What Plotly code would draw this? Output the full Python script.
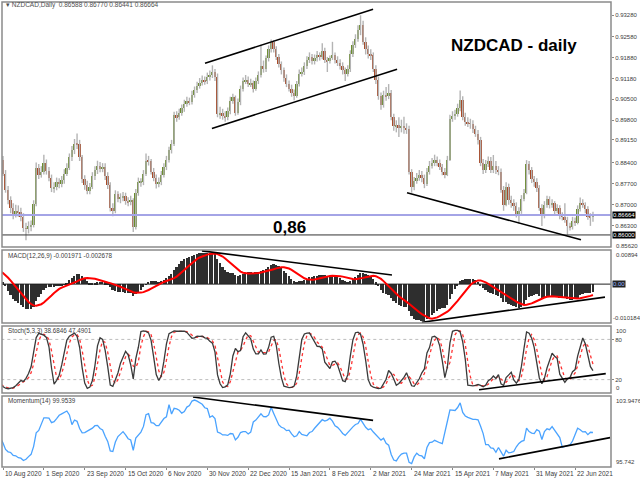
import numpy as np
import pandas as pd
import plotly.graph_objects as go

# ---------------- data (NZDCAD daily, Jun 2020 - Jul 2021) ----------------
open_ = [
 0.8600,0.8620,0.8650,0.8700,0.8760,0.8800,0.8830,0.8850,0.8820,0.8790,
 0.8760,0.8740,0.8770,0.8750,0.8730,0.8760,0.8780,0.8770,0.8750,0.8740,
 0.8760,0.8780,0.8800,0.8810,0.8830,0.8850,0.8840,0.8860,0.8870,0.8880,
 0.8890,0.8880,0.8900,0.8910,0.8920,0.8915,0.8930,0.8935,0.8950,0.8940,
 0.8920,0.8930,0.8945,0.8960,0.8950,0.8935,0.8920,0.8900,0.8880,0.8870,
 0.8850,0.8803,0.8750,0.8716,0.8690,0.8670,0.8680,0.8675,0.8660,0.8622,
 0.8620,0.8628,0.8632,0.8704,0.8823,0.8800,0.8810,0.8840,0.8813,0.8790,
 0.8755,0.8760,0.8775,0.8770,0.8782,0.8803,0.8823,0.8857,0.8880,0.8903,
 0.8900,0.8857,0.8785,0.8765,0.8745,0.8760,0.8795,0.8815,0.8830,0.8820,
 0.8825,0.8795,0.8765,0.8690,0.8680,0.8735,0.8720,0.8725,0.8730,0.8712,
 0.8708,0.8715,0.8625,0.8740,0.8775,0.8775,0.8803,0.8846,0.8845,0.8810,
 0.8790,0.8770,0.8775,0.8800,0.8825,0.8850,0.8880,0.8903,0.8996,0.8990,
 0.9005,0.9020,0.9035,0.9045,0.9040,0.9065,0.9080,0.9095,0.9105,0.9115,
 0.9110,0.9125,0.9130,0.9140,0.9125,0.9000,0.9005,0.8995,0.8990,0.9010,
 0.9045,0.9056,0.9003,0.9040,0.9085,0.9110,0.9115,0.9100,0.9105,0.9085,
 0.9110,0.9130,0.9160,0.9150,0.9185,0.9215,0.9240,0.9215,0.9190,0.9165,
 0.9145,0.9120,0.9100,0.9085,0.9070,0.9060,0.9100,0.9135,0.9140,0.9160,
 0.9180,0.9190,0.9175,0.9185,0.9195,0.9190,0.9210,0.9180,0.9175,0.9185,
 0.9195,0.9180,0.9170,0.9160,0.9145,0.9135,0.9150,0.9200,0.9230,0.9250,
 0.9280,0.9295,0.9240,0.9215,0.9200,0.9195,0.9150,0.9112,0.9060,0.9030,
 0.9065,0.9060,0.9070,0.8990,0.8960,0.8965,0.8955,0.8960,0.8955,0.8950,
 0.8810,0.8760,0.8780,0.8790,0.8800,0.8790,0.8770,0.8810,0.8830,0.8840,
 0.8850,0.8840,0.8825,0.8810,0.8800,0.8850,0.8985,0.8995,0.9000,0.9020,
 0.9046,0.8990,0.8975,0.8970,0.8968,0.8950,0.8935,0.8915,0.8840,0.8815,
 0.8835,0.8845,0.8815,0.8830,0.8815,0.8810,0.8750,0.8700,0.8760,0.8715,
 0.8705,0.8695,0.8670,0.8680,0.8720,0.8740,0.8835,0.8815,0.8785,0.8775,
 0.8755,0.8690,0.8665,0.8700,0.8718,0.8700,0.8705,0.8680,0.8690,0.8665,
 0.8660,0.8650,0.8630,0.8625,0.8645,0.8640,0.8685,0.8705,0.8700,0.8685,
 0.8660,0.86588]
high = [
 0.8635,0.8668,0.8715,0.8778,0.8815,0.8848,0.8870,0.8862,0.8832,0.8805,
 0.8772,0.8785,0.8782,0.8762,0.8775,0.8795,0.8792,0.8782,0.8765,0.8775,
 0.8795,0.8815,0.8825,0.8845,0.8865,0.8862,0.8875,0.8885,0.8895,0.8905,
 0.8905,0.8912,0.8925,0.8935,0.8932,0.8945,0.8950,0.8965,0.8962,0.8952,
 0.8942,0.8958,0.8975,0.8972,0.8962,0.8948,0.8932,0.8912,0.8895,0.8882,
 0.8862,0.8815,0.8762,0.8728,0.8705,0.8700,0.8698,0.8690,0.8672,0.8640,
 0.8645,0.8648,0.8715,0.8840,0.8835,0.8828,0.8866,0.8850,0.8825,0.8800,
 0.8775,0.8790,0.8788,0.8795,0.8818,0.8838,0.8870,0.8895,0.8918,0.8936,
 0.8915,0.8865,0.8798,0.8780,0.8772,0.8808,0.8828,0.8846,0.8842,0.8838,
 0.8838,0.8808,0.8775,0.8705,0.8748,0.8745,0.8738,0.8742,0.8740,0.8725,
 0.8730,0.8722,0.8752,0.8790,0.8788,0.8815,0.8870,0.8862,0.8852,0.8822,
 0.8800,0.8790,0.8812,0.8838,0.8862,0.8892,0.8915,0.9008,0.9010,0.9018,
 0.9032,0.9048,0.9058,0.9055,0.9078,0.9092,0.9108,0.9120,0.9128,0.9125,
 0.9138,0.9145,0.9162,0.9150,0.9135,0.9025,0.9018,0.9010,0.9022,0.9058,
 0.9068,0.9062,0.9052,0.9095,0.9122,0.9130,0.9125,0.9118,0.9112,0.9122,
 0.9142,0.9230,0.9178,0.9195,0.9228,0.9248,0.9245,0.9225,0.9200,0.9175,
 0.9155,0.9132,0.9112,0.9098,0.9082,0.9110,0.9148,0.9155,0.9172,0.9192,
 0.9205,0.9200,0.9198,0.9210,0.9205,0.9235,0.9220,0.9190,0.9195,0.9240,
 0.9205,0.9192,0.9182,0.9172,0.9155,0.9162,0.9212,0.9242,0.9265,0.9295,
 0.9328,0.9310,0.9255,0.9228,0.9215,0.9205,0.9162,0.9125,0.9072,0.9078,
 0.9090,0.9100,0.9080,0.9002,0.8980,0.8990,0.8982,0.8992,0.8970,0.8962,
 0.8818,0.8792,0.8805,0.8815,0.8812,0.8800,0.8822,0.8845,0.8855,0.8866,
 0.8860,0.8850,0.8835,0.8822,0.8862,0.8998,0.9010,0.9015,0.9035,0.9079,
 0.9060,0.9005,0.8990,0.8985,0.8980,0.8962,0.8948,0.8925,0.8852,0.8848,
 0.8860,0.8858,0.8865,0.8845,0.8828,0.8820,0.8762,0.8775,0.8770,0.8730,
 0.8718,0.8708,0.8692,0.8732,0.8752,0.8848,0.8845,0.8825,0.8795,0.8788,
 0.8765,0.8702,0.8712,0.8730,0.8728,0.8718,0.8712,0.8702,0.8698,0.8675,
 0.8705,0.8660,0.8640,0.8660,0.8658,0.8698,0.8724,0.8718,0.8708,0.8695,
 0.8672,0.86770]
low = [
 0.8585,0.8605,0.8638,0.8688,0.8745,0.8788,0.8815,0.8808,0.8775,0.8748,
 0.8725,0.8728,0.8738,0.8715,0.8718,0.8748,0.8758,0.8738,0.8728,0.8730,
 0.8748,0.8768,0.8788,0.8798,0.8818,0.8825,0.8828,0.8848,0.8858,0.8868,
 0.8865,0.8868,0.8888,0.8898,0.8902,0.8905,0.8918,0.8922,0.8928,0.8908,
 0.8908,0.8918,0.8935,0.8938,0.8922,0.8905,0.8888,0.8866,0.8858,0.8838,
 0.8795,0.8740,0.8702,0.8672,0.8652,0.8658,0.8660,0.8645,0.8610,0.8582,
 0.8605,0.8612,0.8625,0.8695,0.8785,0.8790,0.8800,0.8800,0.8778,0.8742,
 0.8740,0.8748,0.8755,0.8758,0.8770,0.8795,0.8815,0.8845,0.8868,0.8885,
 0.8845,0.8772,0.8750,0.8735,0.8735,0.8752,0.8782,0.8802,0.8808,0.8808,
 0.8782,0.8752,0.8678,0.8662,0.8672,0.8708,0.8705,0.8712,0.8700,0.8695,
 0.8698,0.8610,0.8618,0.8730,0.8760,0.8765,0.8795,0.8830,0.8800,0.8778,
 0.8754,0.8758,0.8765,0.8790,0.8815,0.8840,0.8870,0.8895,0.8975,0.8982,
 0.8995,0.9008,0.9025,0.9030,0.9032,0.9055,0.9070,0.9085,0.9095,0.9098,
 0.9100,0.9112,0.9120,0.9110,0.8990,0.8985,0.8982,0.8975,0.8980,0.9000,
 0.9035,0.8995,0.8998,0.9030,0.9075,0.9100,0.9090,0.9090,0.9072,0.9078,
 0.9100,0.9122,0.9138,0.9140,0.9175,0.9205,0.9205,0.9180,0.9155,0.9132,
 0.9108,0.9090,0.9075,0.9058,0.9046,0.9055,0.9092,0.9125,0.9130,0.9150,
 0.9170,0.9165,0.9165,0.9175,0.9178,0.9182,0.9170,0.9140,0.9168,0.9180,
 0.9168,0.9160,0.9148,0.9132,0.9110,0.9125,0.9140,0.9190,0.9220,0.9240,
 0.9262,0.9230,0.9198,0.9185,0.9180,0.9140,0.9100,0.9048,0.9015,0.9022,
 0.9045,0.9050,0.8980,0.8945,0.8940,0.8925,0.8940,0.8935,0.8935,0.8800,
 0.8740,0.8748,0.8770,0.8780,0.8775,0.8755,0.8762,0.8800,0.8820,0.8828,
 0.8828,0.8815,0.8798,0.8788,0.8795,0.8845,0.8975,0.8982,0.8992,0.9010,
 0.8980,0.8962,0.8958,0.8952,0.8938,0.8925,0.8900,0.8828,0.8802,0.8805,
 0.8825,0.8805,0.8805,0.8802,0.8798,0.8740,0.8680,0.8695,0.8700,0.8690,
 0.8680,0.8658,0.8637,0.8670,0.8712,0.8735,0.8800,0.8772,0.8760,0.8742,
 0.8680,0.8630,0.8655,0.8690,0.8688,0.8690,0.8668,0.8672,0.8652,0.8648,
 0.8640,0.8600,0.8615,0.8618,0.8630,0.8635,0.8678,0.8690,0.8672,0.8650,
 0.8630,0.86441]
close = [
 0.8620,0.8650,0.8700,0.8760,0.8800,0.8830,0.8850,0.8820,0.8790,0.8760,
 0.8740,0.8770,0.8750,0.8730,0.8760,0.8780,0.8770,0.8750,0.8740,0.8760,
 0.8780,0.8800,0.8810,0.8830,0.8850,0.8840,0.8860,0.8870,0.8880,0.8890,
 0.8880,0.8900,0.8910,0.8920,0.8915,0.8930,0.8935,0.8950,0.8940,0.8920,
 0.8930,0.8945,0.8960,0.8950,0.8935,0.8920,0.8900,0.8880,0.8870,0.8850,
 0.8803,0.8750,0.8716,0.8690,0.8670,0.8680,0.8675,0.8660,0.8622,0.8620,
 0.8628,0.8632,0.8704,0.8823,0.8800,0.8810,0.8840,0.8813,0.8790,0.8755,
 0.8760,0.8775,0.8770,0.8782,0.8803,0.8823,0.8857,0.8880,0.8903,0.8900,
 0.8857,0.8785,0.8765,0.8745,0.8760,0.8795,0.8815,0.8830,0.8820,0.8825,
 0.8795,0.8765,0.8690,0.8680,0.8735,0.8720,0.8725,0.8730,0.8712,0.8708,
 0.8715,0.8625,0.8740,0.8775,0.8775,0.8803,0.8846,0.8845,0.8810,0.8790,
 0.8770,0.8775,0.8800,0.8825,0.8850,0.8880,0.8903,0.8996,0.8990,0.9005,
 0.9020,0.9035,0.9045,0.9040,0.9065,0.9080,0.9095,0.9105,0.9115,0.9110,
 0.9125,0.9130,0.9140,0.9125,0.9000,0.9005,0.8995,0.8990,0.9010,0.9045,
 0.9056,0.9003,0.9040,0.9085,0.9110,0.9115,0.9100,0.9105,0.9085,0.9110,
 0.9130,0.9160,0.9150,0.9185,0.9215,0.9240,0.9215,0.9190,0.9165,0.9145,
 0.9120,0.9100,0.9085,0.9070,0.9060,0.9100,0.9135,0.9140,0.9160,0.9180,
 0.9190,0.9175,0.9185,0.9195,0.9190,0.9210,0.9180,0.9175,0.9185,0.9195,
 0.9180,0.9170,0.9160,0.9145,0.9135,0.9150,0.9200,0.9230,0.9250,0.9280,
 0.9295,0.9240,0.9215,0.9200,0.9195,0.9150,0.9112,0.9060,0.9030,0.9065,
 0.9060,0.9070,0.8990,0.8960,0.8965,0.8955,0.8960,0.8955,0.8950,0.8810,
 0.8760,0.8780,0.8790,0.8800,0.8790,0.8770,0.8810,0.8830,0.8840,0.8850,
 0.8840,0.8825,0.8810,0.8800,0.8850,0.8985,0.8995,0.9000,0.9020,0.9046,
 0.8990,0.8975,0.8970,0.8968,0.8950,0.8935,0.8915,0.8840,0.8815,0.8835,
 0.8845,0.8815,0.8830,0.8815,0.8810,0.8750,0.8700,0.8760,0.8715,0.8705,
 0.8695,0.8670,0.8680,0.8720,0.8740,0.8835,0.8815,0.8785,0.8775,0.8755,
 0.8690,0.8665,0.8700,0.8718,0.8700,0.8705,0.8680,0.8690,0.8665,0.8660,
 0.8650,0.8630,0.8625,0.8645,0.8640,0.8685,0.8705,0.8700,0.8685,0.8660,
 0.8659,0.86664]

first_date = "2020-06-01"
last_date = "2021-07-01"
market_closed = ["2020-12-25", "2021-01-01"]
first_visible = "2020-08-10"

label_dates = ["2020-08-10", "2020-09-01", "2020-09-23", "2020-10-15", "2020-11-06",
               "2020-11-30", "2020-12-22", "2021-01-15", "2021-02-08", "2021-03-02",
               "2021-03-24", "2021-04-15", "2021-05-07", "2021-05-31", "2021-06-22"]
label_text = ["10 Aug 2020", "1 Sep 2020", "23 Sep 2020", "15 Oct 2020", "6 Nov 2020",
              "30 Nov 2020", "22 Dec 2020", "15 Jan 2021", "8 Feb 2021", "2 Mar 2021",
              "24 Mar 2021", "15 Apr 2021", "7 May 2021", "31 May 2021", "22 Jun 2021"]

price_ticks = [0.9328, 0.9258, 0.9188, 0.9118, 0.9050, 0.8980, 0.8915, 0.8840,
               0.8770, 0.8700, 0.8630]
price_range = [0.8560, 0.9372]
price_floor_label = 0.8562
bid_price = 0.86664
support_level = 0.86000
macd_range = [-0.010184, 0.00894]
stoch_levels = [20, 80]
stoch_range = [0, 100]
mom_range = [95.742, 103.9476]

# analyst trend lines (bar offset from 10 Aug 2020, value)
chan_up_x, chan_up_y = [79.1, 144.9], [0.9169, 0.9348]
chan_lo_x, chan_lo_y = [81.8, 154.3], [0.8953, 0.9149]
wedge_x, wedge_y = [158.2, 226.3], [0.8740, 0.8584]
macd_tl1_x, macd_tl1_y = [77.9, 152.3], [0.0087, 0.0024]
macd_tl2_x, macd_tl2_y = [164.0, 235.7], [-0.0100, -0.0034]
stoch_tl_x, stoch_tl_y = [186.4, 236.0], [5, 29]
mom_tl1_x, mom_tl1_y = [74.4, 144.9], [103.83, 101.13]
mom_tl2_x, mom_tl2_y = [194.2, 237.7], [96.68, 99.14]

# ---------------- indicators ----------------
o = np.array(open_); h = np.array(high); l = np.array(low); c = np.array(close)
n = len(c)
dates = [d.strftime("%Y-%m-%d") for d in pd.bdate_range(first_date, last_date)
         if d.strftime("%Y-%m-%d") not in market_closed][:n]
x0 = dates.index(first_visible)
idx = np.arange(n) - x0


def ema(x, p):
    a = 2.0 / (p + 1)
    out = np.empty_like(x)
    out[0] = x[0]
    for i in range(1, len(x)):
        out[i] = a * x[i] + (1 - a) * out[i - 1]
    return out


macd = ema(c, 12) - ema(c, 26)
signal = pd.Series(macd).rolling(9).mean().values
cs, hs, ls = pd.Series(c), pd.Series(h), pd.Series(l)
ll = ls.rolling(5).min(); hh = hs.rolling(5).max()
k = 100 * (cs - ll).rolling(3).sum() / (hh - ll).rolling(3).sum()
d = k.rolling(3).mean()
mom = (cs / cs.shift(14) * 100).values

body_base = np.minimum(o, c)
body_h = np.maximum(np.abs(c - o), 0.00008)
body_col = np.where(c >= o, "#6a8c2c", "#a84a28")

# ---------------- figure ----------------
dom_main = [0.4731, 1.0]
dom_macd = [0.3097, 0.4667]
dom_sto = [0.1591, 0.3032]
dom_mom = [0.0, 0.1527]
x_span = [idx[0], idx[-1] + 20]

fig = go.Figure()
fig.add_trace(go.Ohlc(x=idx, open=o, high=h, low=l, close=c, tickwidth=0,
                      increasing=dict(line=dict(color="#b4b4b4", width=1.4)),
                      decreasing=dict(line=dict(color="#b4b4b4", width=1.4)),
                      hoverinfo="skip", xaxis="x", yaxis="y"))
fig.add_trace(go.Bar(x=idx, y=body_h, base=body_base, width=0.72,
                     marker=dict(color=body_col, line=dict(width=0)),
                     hoverinfo="skip", xaxis="x", yaxis="y"))

# horizontal levels
fig.add_trace(go.Scatter(x=x_span, y=[bid_price] * 2, mode="lines",
                         line=dict(color="#a4a4e6", width=2), hoverinfo="skip", xaxis="x", yaxis="y"))
fig.add_trace(go.Scatter(x=x_span, y=[support_level] * 2, mode="lines",
                         line=dict(color="#333333", width=1), hoverinfo="skip", xaxis="x", yaxis="y"))

# MACD
fig.add_trace(go.Bar(x=idx, y=macd, width=0.68, marker=dict(color="#2e2e2e", line=dict(width=0)),
                     hoverinfo="skip", xaxis="x", yaxis="y2"))
fig.add_trace(go.Scatter(x=x_span, y=[0, 0], mode="lines",
                         line=dict(color="#202020", width=1), hoverinfo="skip", xaxis="x", yaxis="y2"))
fig.add_trace(go.Scatter(x=idx, y=signal, mode="lines", line=dict(color="#ff0000", width=2),
                         hoverinfo="skip", xaxis="x", yaxis="y2"))
# Stochastic
for lv in stoch_levels:
    fig.add_trace(go.Scatter(x=x_span, y=[lv, lv], mode="lines",
                             line=dict(color="#bdbdbd", width=1, dash="dot"),
                             hoverinfo="skip", xaxis="x", yaxis="y3"))
fig.add_trace(go.Scatter(x=idx, y=d, mode="lines", line=dict(color="#ff3333", width=1.3, dash="dot"),
                         hoverinfo="skip", xaxis="x", yaxis="y3"))
fig.add_trace(go.Scatter(x=idx, y=k, mode="lines", line=dict(color="#3a3a3a", width=1.3),
                         hoverinfo="skip", xaxis="x", yaxis="y3"))
# Momentum
fig.add_trace(go.Scatter(x=idx, y=mom, mode="lines", line=dict(color="#4aa3ff", width=1.3),
                         hoverinfo="skip", xaxis="x", yaxis="y4"))

# trend lines
for tx, ty, ya in [(chan_up_x, chan_up_y, "y"), (chan_lo_x, chan_lo_y, "y"),
                   (wedge_x, wedge_y, "y"), (macd_tl1_x, macd_tl1_y, "y2"),
                   (macd_tl2_x, macd_tl2_y, "y2"), (stoch_tl_x, stoch_tl_y, "y3"),
                   (mom_tl1_x, mom_tl1_y, "y4"), (mom_tl2_x, mom_tl2_y, "y4")]:
    fig.add_trace(go.Scatter(x=tx, y=ty, mode="lines", line=dict(color="#000000", width=1.6),
                             hoverinfo="skip", xaxis="x", yaxis=ya))

tick_pos = [dates.index(dt) - x0 for dt in label_dates]
FONT = "Liberation Sans, Arial, sans-serif"
small = dict(family=FONT, size=6, color="#3c3c3c")

yax = dict(side="right", anchor="x", showgrid=False, zeroline=False, showline=False,
           ticks="outside", ticklen=2, tickcolor="#888888", tickfont=small, fixedrange=True)

fig.update_layout(
    width=640, height=480,
    margin=dict(l=2, r=29, t=2, b=13),
    paper_bgcolor="white", plot_bgcolor="white",
    showlegend=False, bargap=0,
    xaxis=dict(domain=[0, 1], anchor="y4", range=[-0.39, 238.06], showgrid=False,
               zeroline=False, showline=False, tickvals=tick_pos, showticklabels=False,
               ticks="outside", ticklen=2, tickcolor="#888888", fixedrange=True,
               rangeslider=dict(visible=False)),
    yaxis=dict(domain=dom_main, range=price_range, tickvals=price_ticks,
               ticktext=[f"{v:.5f}" for v in price_ticks], **yax),
    yaxis2=dict(domain=dom_macd, range=macd_range, tickvals=[], **yax),
    yaxis3=dict(domain=dom_sto, range=stoch_range, tickvals=stoch_levels,
                ticktext=[str(v) for v in stoch_levels], **yax),
    yaxis4=dict(domain=dom_mom, range=mom_range, tickvals=[], **yax),
)

# panel frames
shapes = []
for dom in [dom_main, dom_macd, dom_sto, dom_mom]:
    shapes.append(dict(type="rect", xref="paper", yref="paper", x0=0, x1=1,
                       y0=dom[0], y1=dom[1], line=dict(color="#8a8a8a", width=1.5),
                       fillcolor="rgba(0,0,0,0)"))
fig.update_layout(shapes=shapes)

ann = []
for pos, txt in zip(tick_pos, label_text):
    ann.append(dict(x=pos, y=0, xref="x", yref="paper", text=txt, showarrow=False,
                    xanchor="left", yanchor="top", yshift=-1, xshift=0,
                    font=dict(family=FONT, size=6.5, color="#3c3c3c")))

# panel edge value labels (MT4 style, inside the panel edges)
edge_labels = [
    ("y", price_floor_label, f"{price_floor_label:.5f}", "middle", 3),
    ("y2", macd_range[1], "0.00894", "top", 3),
    ("y2", macd_range[0], "-0.010184", "bottom", 0),
    ("y3", stoch_range[1], "100", "top", 3),
    ("y3", stoch_range[0], "0", "bottom", 3),
    ("y4", mom_range[1], "103.9476", "top", 3),
    ("y4", mom_range[0], "95.742", "bottom", 3),
]
for yr, val, txt, anc, xs in edge_labels:
    ann.append(dict(x=1, y=val, xref="paper", yref=yr, text=txt, showarrow=False,
                    xanchor="left", yanchor=anc, xshift=xs, font=small))

ann += [
    dict(x=0.004, y=0.9935, xref="paper", yref="paper", showarrow=False, xanchor="left",
         yanchor="middle", text="▾ NZDCAD,Daily  0.86588 0.86770 0.86441 0.86664",
         font=dict(family=FONT, size=6.5, color="#505050")),
    dict(x=0.006, y=0.4545, xref="paper", yref="paper", showarrow=False, xanchor="left",
         yanchor="middle", text="MACD(12,26,9) -0.001971 -0.002678",
         font=dict(family=FONT, size=6.3, color="#404040")),
    dict(x=0.006, y=0.2925, xref="paper", yref="paper", showarrow=False, xanchor="left",
         yanchor="middle", text="Stoch(5,3,3) 38.6846 47.4901",
         font=dict(family=FONT, size=6.3, color="#404040")),
    dict(x=0.006, y=0.1415, xref="paper", yref="paper", showarrow=False, xanchor="left",
         yanchor="middle", text="Momentum(14) 99.9539",
         font=dict(family=FONT, size=6.3, color="#404040")),
    dict(x=0.8407, y=0.9075, xref="paper", yref="paper", showarrow=False,
         xanchor="center", yanchor="middle", text="<b>NZDCAD - daily</b>",
         font=dict(family=FONT, size=17, color="#000000")),
    dict(x=0.4713, y=0.514, xref="paper", yref="paper", showarrow=False,
         xanchor="center", yanchor="middle", text="<b>0,86</b>",
         font=dict(family=FONT, size=17, color="#000000")),
    dict(x=1, y=bid_price, xref="paper", yref="y", showarrow=False, xanchor="left",
         yanchor="middle", xshift=1, text=f"{bid_price:.5f}", bgcolor="#000000", borderpad=0,
         font=dict(family=FONT, size=6, color="#ffffff")),
    dict(x=1, y=support_level, xref="paper", yref="y", showarrow=False, xanchor="left",
         yanchor="middle", xshift=1, text=f"{support_level:.5f}", bgcolor="#000000", borderpad=0,
         font=dict(family=FONT, size=6, color="#ffffff")),
    dict(x=1, y=0, xref="paper", yref="y2", showarrow=False, xanchor="left",
         yanchor="middle", xshift=1, text="0.00", bgcolor="#222222", borderpad=0,
         font=dict(family=FONT, size=6, color="#9ab8ff")),
]
fig.update_layout(annotations=ann)

fig.write_html("out.html", config={"displayModeBar": False},
               post_script="document.body.style.margin='0';")
